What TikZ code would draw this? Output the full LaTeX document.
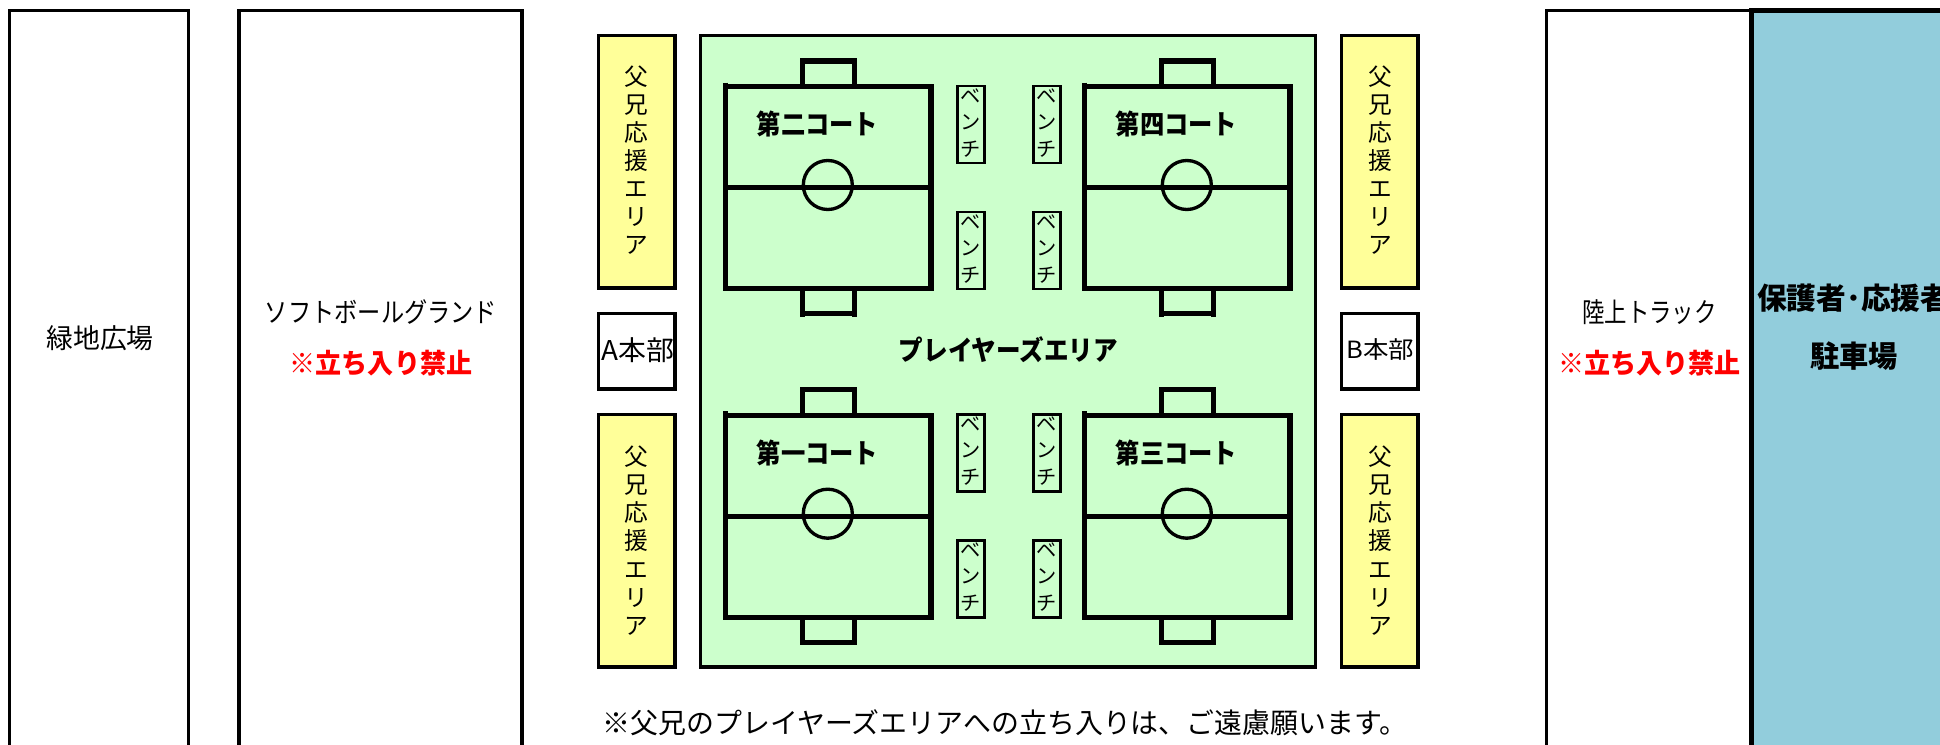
\documentclass[tikz,border=0pt]{standalone}
\usepackage{fontspec}
\usepackage{graphicx}
\newfontfamily\jp{Noto Sans CJK JP}
\newdimen\pxu \pxu=0.5669pt
\newcommand\fitw[2]{\resizebox{#1\pxu}{\height}{#2}}
\definecolor{grn}{HTML}{CCFFCC}
\definecolor{ylw}{HTML}{FFFF99}
\definecolor{blu}{HTML}{92CDDC}
\tikzset{
 thinbox/.style={draw=black,line width=1.9pt},
 courtline/.style={draw=black,line width=2.9pt},
 benchbox/.style={draw=black,line width=1.7pt},
 txt/.style={inner sep=0pt,outer sep=0pt,black,font=\jp\fontsize{15.5}{15.5}\selectfont},
 boldtxt/.style={inner sep=0pt,outer sep=0pt,black,font=\jp\bfseries\fontsize{15.5}{15.5}\selectfont},
 redtxt/.style={boldtxt,text=red},
 stack/.style={inner sep=0pt,outer sep=0pt,align=center,font=\jp\fontsize{13.5}{16}\selectfont},
 benchtxt/.style={inner sep=0pt,outer sep=0pt,align=center,font=\jp\fontsize{11.5}{15.1}\selectfont},
}
\newcommand\court[4]{%
\begin{scope}[shift={(#1,#2)}]
 \draw[thinbox] (828.3,185) circle (24.5);
 \draw[courtline] (726.3,82.7) -- (726.3,291);
 \draw[courtline] (724,86.5) -- (931.5,86.5) -- (931.5,288.5) -- (724,288.5);
 \draw[courtline] (724,187.5) -- (931.5,187.5);
 \draw[courtline] (803.2,86) -- (803.2,61) -- (854.8,61) -- (854.8,86);
 \draw[courtline] (803.2,288) -- (803.2,316.7);
 \draw[courtline] (854.8,288) -- (854.8,316.7);
 \draw[courtline] (803.2,313.5) -- (854.8,313.5);
 \node[boldtxt] (#3) at (818,124) {\fitw{122}{#4}};
\end{scope}}
\newcommand\bench[3]{%
 \draw[benchbox] (#1,#2) rectangle ++(27,77);
 \node[benchtxt] (#3) at (#1+13.5,#2+37) {ベ\\ン\\チ};
}
\begin{document}
\begin{tikzpicture}[x=0.02cm,y=-0.02cm]
\path[use as bounding box] (0,0) rectangle (1940,744);
\clip (0,0) rectangle (1940,744);
% outer fields
\draw[thinbox,fill=white] (9.5,10.5) rectangle (188.5,760);
\draw[thinbox,fill=white] (239,10.5) rectangle (522,760);
\draw[thinbox,fill=white] (1546.5,10.5) rectangle (1760,760);
\draw[line width=2.9pt,fill=blu] (1751.5,10.5) rectangle (1960,760);
\node[txt] (ryokuchi) at (100,338) {\fitw{108}{緑地広場}};
\node[txt] (softball) at (381,312) {\fitw{233}{ソフトボールグランド}};
\node[redtxt] (kinshi1) at (381,363) {\fitw{183}{※立ち入り禁止}};
\node[txt] (track) at (1649.5,312) {\fitw{135}{陸上トラック}};
\node[redtxt] (kinshi2) at (1649.5,363) {\fitw{183}{※立ち入り禁止}};
\node[boldtxt,anchor=west,font=\jp\bfseries\fontsize{17}{17}\selectfont] (hogosha) at (1757,298) {\fitw{194}{保護者･応援者}};
\node[boldtxt,font=\jp\bfseries\fontsize{17}{17}\selectfont] (chusha) at (1854,356) {\fitw{88}{駐車場}};
% players area
\draw[thinbox,fill=grn] (700.5,35.5) rectangle (1315.5,667);
% side boxes
\draw[thinbox,fill=ylw] (598.5,35.5) rectangle (675,288);
\draw[thinbox,fill=ylw] (598.5,414.5) rectangle (675,667);
\draw[thinbox,fill=ylw] (1341.5,35.5) rectangle (1418,288);
\draw[thinbox,fill=ylw] (1341.5,414.5) rectangle (1418,667);
\draw[thinbox,fill=white] (598.5,313.5) rectangle (675,389);
\draw[thinbox,fill=white] (1341.5,313.5) rectangle (1418,389);
\node[stack] (fukei1) at (636.7,160) {父\\兄\\応\\援\\エ\\リ\\ア};
\node[stack] (fukei2) at (636.7,540.5) {父\\兄\\応\\援\\エ\\リ\\ア};
\node[stack] (fukei3) at (1380,160) {父\\兄\\応\\援\\エ\\リ\\ア};
\node[stack] (fukei4) at (1380,540.5) {父\\兄\\応\\援\\エ\\リ\\ア};
\node[txt] (honbuA) at (638,350) {\fitw{73}{A本部}};
\node[txt,font=\jp\fontsize{13.5}{13.5}\selectfont] (honbuB) at (1380.5,350) {\fitw{68}{B本部}};
% courts
\court{-0.5}{0}{c2}{第二コート}
\court{358.5}{0}{c4}{第四コート}
\court{-0.5}{328.7}{c1}{第一コート}
\court{358.5}{328.7}{c3}{第三コート}
% benches
\bench{957}{86}{b1}
\bench{1033}{86}{b2}
\bench{957}{212}{b3}
\bench{1033}{212}{b4}
\bench{957}{414}{b5}
\bench{1033}{414}{b6}
\bench{957}{540}{b7}
\bench{1033}{540}{b8}
\node[boldtxt] (players) at (1008.5,350) {\fitw{220}{プレイヤーズエリア}};
\node[txt,font=\jp\fontsize{16}{16}\selectfont] (note) at (1005,722.5) {\fitw{808}{※父兄のプレイヤーズエリアへの立ち入りは、ご遠慮願います。}};
\end{tikzpicture}
\end{document}
